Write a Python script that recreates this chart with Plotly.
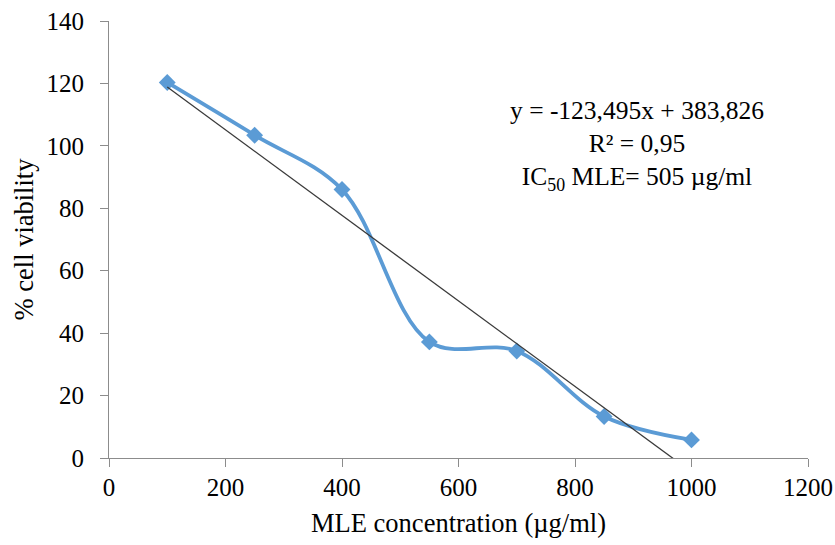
import numpy as np
import plotly.graph_objects as go

concentration = [100, 250, 400, 550, 700, 850, 1000]
viability = [120.3, 103.4, 86.0, 37.2, 34.3, 13.3, 5.8]
x_ticks = [0, 200, 400, 600, 800, 1000, 1200]
y_ticks = [0, 20, 40, 60, 80, 100, 120, 140]

slope, intercept = np.polyfit(concentration, viability, 1)
trend_x = [concentration[0], concentration[-1]]
trend_y = [slope * v + intercept for v in trend_x]

FONT = "Liberation Serif"

fig = go.Figure()
fig.add_trace(go.Scatter(
    x=concentration, y=viability, mode="lines+markers",
    line=dict(color="#5B9BD5", width=3.8, shape="spline", smoothing=1),
    marker=dict(symbol="diamond", size=13, color="#5B9BD5"),
    showlegend=False, cliponaxis=False,
))
fig.add_trace(go.Scatter(
    x=trend_x, y=trend_y, mode="lines",
    line=dict(color="#3a3a3a", width=1.3),
    showlegend=False,
))

fig.add_annotation(
    x=0.756, y=0.715, xref="paper", yref="paper",
    xanchor="center", yanchor="middle",
    text="y = -123,495x + 383,826<br>R² = 0,95<br>IC<sub>50</sub> MLE= 505 µg/ml",
    showarrow=False, align="center",
    font=dict(family=FONT, size=25.5, color="black"),
)

axis_common = dict(
    showline=True, linecolor="#8c8c8c", linewidth=1,
    ticks="outside", tickcolor="#8c8c8c", ticklen=8,
    showgrid=False, zeroline=False, automargin=False,
    tickfont=dict(family=FONT, size=25, color="black"),
)

fig.update_layout(
    width=835, height=545,
    margin=dict(l=109, r=27, t=21, b=87),
    plot_bgcolor="white", paper_bgcolor="white",
    font=dict(family=FONT, color="black"),
    xaxis=dict(range=[0, 1200], tickvals=x_ticks, ticklabelstandoff=-1,
               title=dict(text="MLE concentration (µg/ml)", font=dict(family=FONT, size=26.5, color="black"), standoff=13),
               **axis_common),
    yaxis=dict(range=[0, 140], tickvals=y_ticks, ticklabelstandoff=11,
               title=dict(text="% cell viability", font=dict(family=FONT, size=26.5, color="black"), standoff=5),
               **axis_common),
)

fig.write_html("out.html", config={"displayModeBar": False},
               post_script="document.body.style.margin='0';")
